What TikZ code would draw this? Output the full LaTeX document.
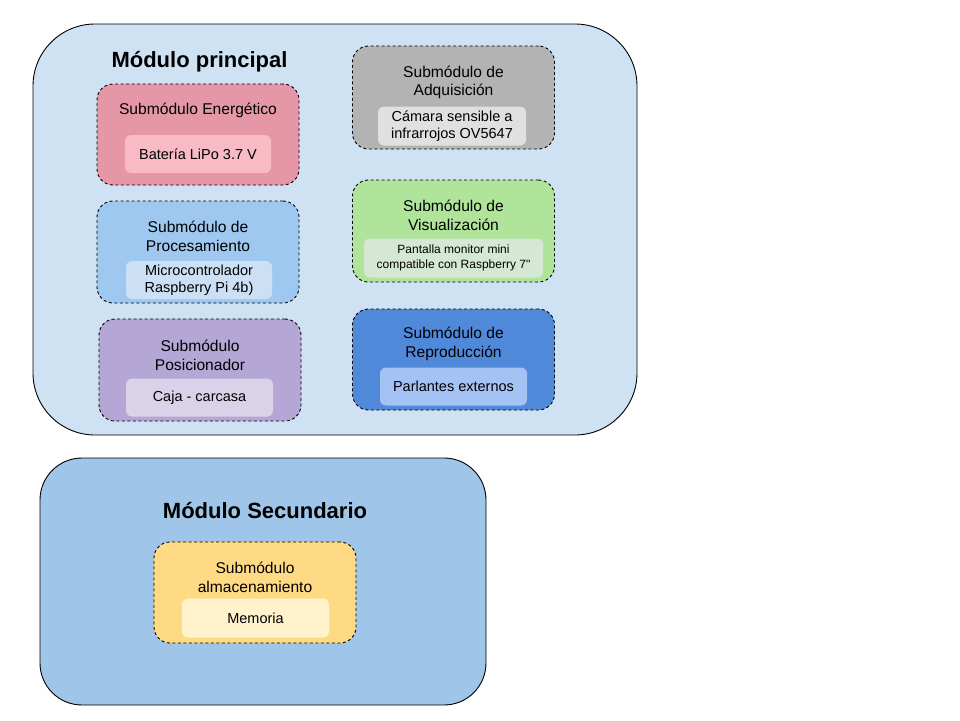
\documentclass[tikz,border=0pt]{standalone}
\usepackage{fontspec}
\setmainfont{Liberation Sans}[Ligatures=TeXOff]
\usepackage{xcolor}
\usepackage{tikz}
\usetikzlibrary{positioning}
\usetikzlibrary{shapes}

\definecolor{mainblue}{HTML}{CFE2F3}
\definecolor{secblue}{HTML}{9FC5E8}
\definecolor{energA}{HTML}{E697A7}
\definecolor{energB}{HTML}{F8BAC4}
\definecolor{adqA}{HTML}{B3B3B3}
\definecolor{adqB}{HTML}{E0E0E0}
\definecolor{visA}{HTML}{B0E49B}
\definecolor{visB}{HTML}{D5E8D4}
\definecolor{procA}{HTML}{9FC8F0}
\definecolor{procB}{HTML}{CCE0F5}
\definecolor{repA}{HTML}{5088DA}
\definecolor{repB}{HTML}{A4C2F4}
\definecolor{posA}{HTML}{B4A7D6}
\definecolor{posB}{HTML}{D9D2E9}
\definecolor{almA}{HTML}{FFDA85}
\definecolor{almB}{HTML}{FFF2CC}

\begin{document}
\begin{tikzpicture}[
	x=1pt, y=-1pt,
	line join=round,
	font=\fontsize{15.6}{18.7}\selectfont
]
\tikzset{
    modnode/.style = {rectangle, draw=black, line width=0.9pt, inner sep=0pt},
    modtitle/.style = {inner sep=0pt, font=\fontsize{22}{26}\selectfont\bfseries},
    subnode/.style = {rectangle, rounded corners=16pt, draw=black, line width=0.9pt, dash pattern=on 3pt off 2.5pt, minimum width=202pt, minimum height=101pt, inner sep=0pt},
    subtitle/.style = {inner sep=0pt, align=center},
    itemnode/.style = {rectangle, rounded corners=6pt, minimum width=147pt, minimum height=38pt, inner sep=0pt, align=center, font=\fontsize{14.5}{17.4}\selectfont}
}
\useasboundingbox (0,0) rectangle (960,720);

\node[modnode, rounded corners=62pt, fill=mainblue, minimum width=604pt, minimum height=411pt] (principal) at (335,229.5) {};
\node[modtitle] (principalT) at (199.5,62) {Módulo principal};

\node[subnode, fill=energA] (energ) at (198,134.5) {};
\node[subtitle] (energT) at (198,110) {Submódulo Energético};
\node[itemnode, fill=energB, minimum width=146pt] (energI) at (198,154) {Batería LiPo 3.7 V};

\node[subnode, fill=adqA, minimum height=103pt] (adq) at (453.5,97.5) {};
\node[subtitle] (adqT) at (453.5,82.5) {Submódulo de\\Adquisición};
\node[itemnode, fill=adqB, minimum width=148pt, minimum height=39pt] (adqI) at (452,126) {Cámara sensible a\\infrarrojos OV5647};

\node[subnode, fill=procA, minimum height=102pt] (proc) at (198,252) {};
\node[subtitle] (procT) at (198,236.5) {Submódulo de\\Procesamiento};
\node[itemnode, fill=procB, minimum width=146pt] (procI) at (199,280) {Microcontrolador\\Raspberry Pi 4b)};

\node[subnode, fill=visA, minimum height=102pt] (vis) at (453.5,231) {};
\node[subtitle] (visT) at (453.5,215.5) {Submódulo de\\Visualización};
\node[itemnode, fill=visB, minimum width=179pt, minimum height=39pt, font=\fontsize{12}{14.4}\selectfont] (visI) at (453.5,258) {Pantalla monitor mini\\compatible con Raspberry 7"};

\node[subnode, fill=posA, minimum height=102pt] (pos) at (200,370) {};
\node[subtitle] (posT) at (200,355.5) {Submódulo\\Posicionador};
\node[itemnode, fill=posB] (posI) at (199.5,397.5) {Caja - carcasa};

\node[subnode, fill=repA] (rep) at (453.5,359.5) {};
\node[subtitle] (repT) at (453.5,344) {Submódulo de\\Reproducción};
\node[itemnode, fill=repB] (repI) at (453.5,386.5) {Parlantes externos};

\node[modnode, rounded corners=42pt, fill=secblue, minimum width=446pt, minimum height=247pt] (secundario) at (263,581.5) {};
\node[modtitle] (secundarioT) at (265,511) {Módulo Secundario};

\node[subnode, fill=almA] (alm) at (255,592.5) {};
\node[subtitle] (almT) at (255,577.5) {Submódulo\\almacenamiento};
\node[itemnode, fill=almB, minimum height=39pt] (almI) at (255.5,618) {Memoria};
\end{tikzpicture}
\end{document}
